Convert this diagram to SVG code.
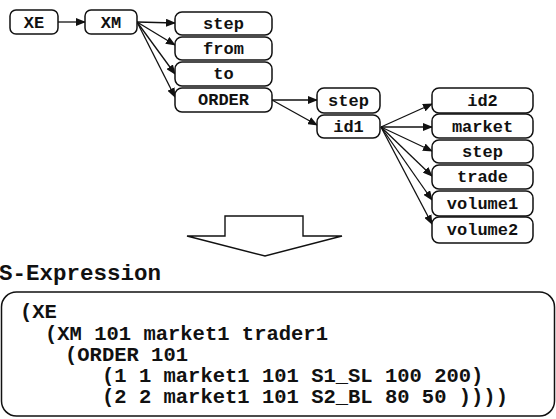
<svg xmlns="http://www.w3.org/2000/svg" width="556" height="419" viewBox="0 0 556 419">
<defs>
<marker id="ah" markerWidth="10" markerHeight="8" refX="9" refY="4" orient="auto" markerUnits="userSpaceOnUse">
<path d="M0,0 L10,4 L0,8 Z" fill="#111"/>
</marker>
<style>
.box{fill:#fff;stroke:#111;stroke-width:1.5}
.t{font-family:'Liberation Mono','Courier New',monospace;font-weight:bold;font-size:17px;fill:#111;text-anchor:middle}
.c{font-family:'Liberation Mono','Courier New',monospace;font-weight:bold;font-size:20.5px;fill:#111}
.e{fill:none;stroke:#111;stroke-width:1.3;marker-end:url(#ah)}
</style>
</defs>
<rect width="556" height="419" fill="#fff"/>
<g id="connectors">
<line class="e" x1="58" y1="22" x2="85" y2="22"/>
<line class="e" x1="137" y1="22" x2="175" y2="23"/>
<line class="e" x1="137" y1="22" x2="175" y2="45"/>
<line class="e" x1="137" y1="22" x2="175" y2="74"/>
<line class="e" x1="137" y1="22" x2="175" y2="97"/>
<line class="e" x1="272" y1="100" x2="317" y2="100"/>
<line class="e" x1="272" y1="100" x2="317" y2="125"/>
<line class="e" x1="381" y1="127" x2="432" y2="104"/>
<line class="e" x1="381" y1="127" x2="432" y2="127"/>
<line class="e" x1="381" y1="127" x2="432" y2="151"/>
<line class="e" x1="381" y1="127" x2="432" y2="176"/>
<line class="e" x1="381" y1="127" x2="432" y2="200"/>
<line class="e" x1="381" y1="127" x2="432" y2="224"/>
</g>
<g id="XE"><rect class="box" x="10" y="10" width="48" height="24" rx="6"/><text class="t" x="34" y="28">XE</text></g>
<g id="XM"><rect class="box" x="85" y="10" width="52" height="24" rx="6"/><text class="t" x="111" y="28">XM</text></g>
<g id="step1"><rect class="box" x="175" y="12" width="97" height="23" rx="7"/><text class="t" x="223.5" y="29">step</text></g>
<g id="from"><rect class="box" x="175" y="37" width="97" height="23" rx="7"/><text class="t" x="223.5" y="54">from</text></g>
<g id="to"><rect class="box" x="175" y="62" width="97" height="24" rx="7"/><text class="t" x="223.5" y="79">to</text></g>
<g id="ORDER"><rect class="box" x="175" y="88" width="97" height="24" rx="7"/><text class="t" x="223.5" y="105">ORDER</text></g>
<g id="step2"><rect class="box" x="317" y="88" width="63" height="25" rx="7"/><text class="t" x="348.5" y="106">step</text></g>
<g id="id1"><rect class="box" x="317" y="115" width="63" height="23" rx="7"/><text class="t" x="348.5" y="132">id1</text></g>
<g id="id2"><rect class="box" x="432" y="88" width="101" height="25" rx="7"/><text class="t" x="482.5" y="106">id2</text></g>
<g id="market"><rect class="box" x="432" y="114" width="101" height="24" rx="7"/><text class="t" x="482.5" y="132">market</text></g>
<g id="step3"><rect class="box" x="432" y="140" width="101" height="23" rx="7"/><text class="t" x="482.5" y="157">step</text></g>
<g id="trade"><rect class="box" x="432" y="165" width="101" height="24" rx="7"/><text class="t" x="482.5" y="182">trade</text></g>
<g id="volume1"><rect class="box" x="432" y="191" width="101" height="25" rx="7"/><text class="t" x="482.5" y="209">volume1</text></g>
<g id="volume2"><rect class="box" x="432" y="217" width="101" height="26" rx="7"/><text class="t" x="482.5" y="235">volume2</text></g>
<g id="bigarrow"><polygon points="225,236 225,216 303,216 303,236 342,236 265,256 187,236" fill="#fff" stroke="#111" stroke-width="1.4" stroke-linejoin="miter"/></g>
<text x="-1" y="280" font-family="'Liberation Mono','Courier New',monospace" font-weight="bold" font-size="22.5" fill="#111">S-Expression</text>
<g id="sexpr">
<rect x="1.5" y="292" width="553" height="124" rx="15" fill="#fff" stroke="#111" stroke-width="1.5"/>
<text class="c" x="20" y="318">(XE</text>
<text class="c" x="45" y="340">(XM 101 market1 trader1</text>
<text class="c" x="65" y="361">(ORDER 101</text>
<text class="c" x="102" y="382">(1 1 market1 101 S1_SL 100 200)</text>
<text class="c" x="102" y="403">(2 2 market1 101 S2_BL 80 50 ))))</text>
</g>
</svg>
